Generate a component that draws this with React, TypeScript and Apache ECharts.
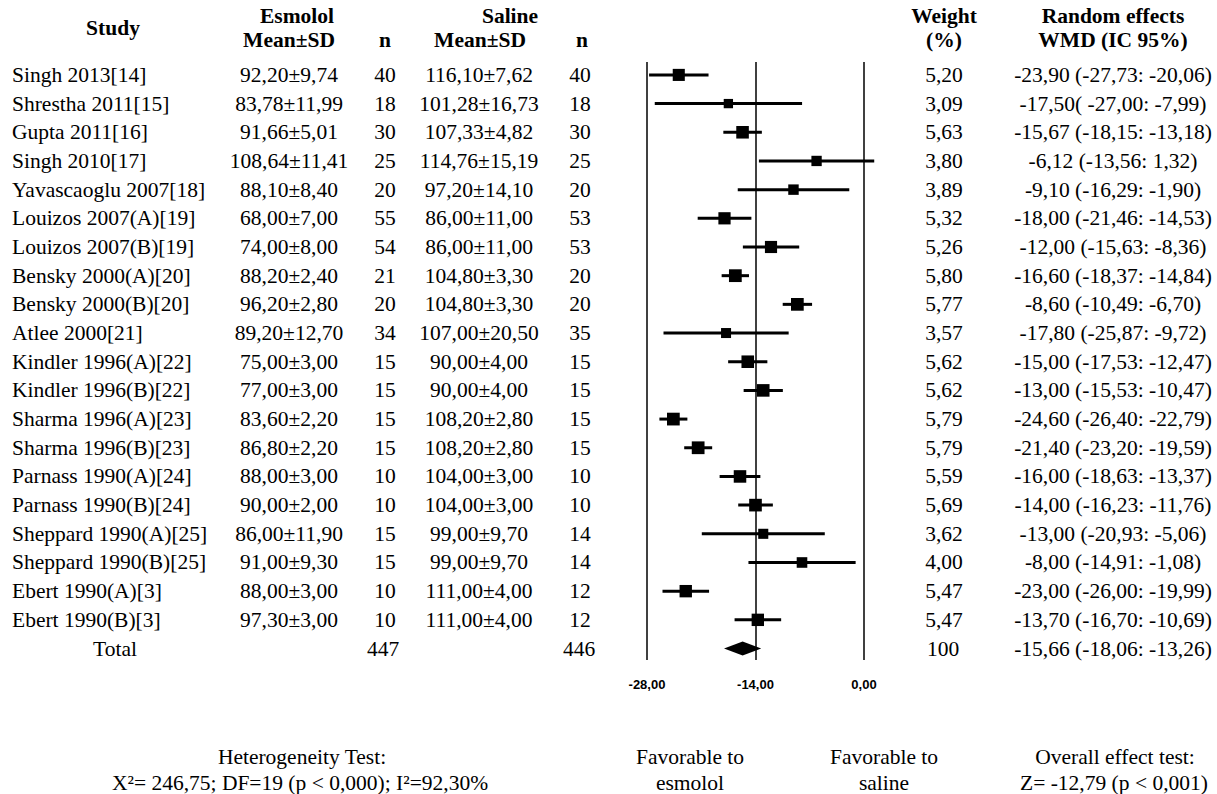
import React, { useEffect, useRef } from "react";
import * as echarts from "echarts";

const studies = [
  "Singh 2013[14]", "Shrestha 2011[15]", "Gupta 2011[16]", "Singh 2010[17]", "Yavascaoglu 2007[18]",
  "Louizos 2007(A)[19]", "Louizos 2007(B)[19]", "Bensky 2000(A)[20]", "Bensky 2000(B)[20]", "Atlee 2000[21]",
  "Kindler 1996(A)[22]", "Kindler 1996(B)[22]", "Sharma 1996(A)[23]", "Sharma 1996(B)[23]", "Parnass 1990(A)[24]",
  "Parnass 1990(B)[24]", "Sheppard 1990(A)[25]", "Sheppard 1990(B)[25]", "Ebert 1990(A)[3]", "Ebert 1990(B)[3]",
];
const esmololMeanSD = [
  "92,20±9,74", "83,78±11,99", "91,66±5,01", "108,64±11,41", "88,10±8,40", "68,00±7,00", "74,00±8,00",
  "88,20±2,40", "96,20±2,80", "89,20±12,70", "75,00±3,00", "77,00±3,00", "83,60±2,20", "86,80±2,20",
  "88,00±3,00", "90,00±2,00", "86,00±11,90", "91,00±9,30", "88,00±3,00", "97,30±3,00",
];
const esmololN = [40, 18, 30, 25, 20, 55, 54, 21, 20, 34, 15, 15, 15, 15, 10, 10, 15, 15, 10, 10];
const salineMeanSD = [
  "116,10±7,62", "101,28±16,73", "107,33±4,82", "114,76±15,19", "97,20±14,10", "86,00±11,00", "86,00±11,00",
  "104,80±3,30", "104,80±3,30", "107,00±20,50", "90,00±4,00", "90,00±4,00", "108,20±2,80", "108,20±2,80",
  "104,00±3,00", "104,00±3,00", "99,00±9,70", "99,00±9,70", "111,00±4,00", "111,00±4,00",
];
const salineN = [40, 18, 30, 25, 20, 53, 53, 20, 20, 35, 15, 15, 15, 15, 10, 10, 14, 14, 12, 12];
const weights = [5.2, 3.09, 5.63, 3.8, 3.89, 5.32, 5.26, 5.8, 5.77, 3.57, 5.62, 5.62, 5.79, 5.79, 5.59, 5.69, 3.62, 4.0, 5.47, 5.47];
const wmd = [-23.9, -17.5, -15.67, -6.12, -9.1, -18.0, -12.0, -16.6, -8.6, -17.8, -15.0, -13.0, -24.6, -21.4, -16.0, -14.0, -13.0, -8.0, -23.0, -13.7];
const ciLow = [-27.73, -27.0, -18.15, -13.56, -16.29, -21.46, -15.63, -18.37, -10.49, -25.87, -17.53, -15.53, -26.4, -23.2, -18.63, -16.23, -20.93, -14.91, -26.0, -16.7];
const ciHigh = [-20.06, -7.99, -13.18, 1.32, -1.9, -14.53, -8.36, -14.84, -6.7, -9.72, -12.47, -10.47, -22.79, -19.59, -13.37, -11.76, -5.06, -1.08, -19.99, -10.69];
const wmdLabels = [
  "-23,90 (-27,73: -20,06)", "-17,50( -27,00: -7,99)", "-15,67 (-18,15: -13,18)", "-6,12 (-13,56: 1,32)",
  "-9,10 (-16,29: -1,90)", "-18,00 (-21,46: -14,53)", "-12,00 (-15,63: -8,36)", "-16,60 (-18,37: -14,84)",
  "-8,60 (-10,49: -6,70)", "-17,80 (-25,87: -9,72)", "-15,00 (-17,53: -12,47)", "-13,00 (-15,53: -10,47)",
  "-24,60 (-26,40: -22,79)", "-21,40 (-23,20: -19,59)", "-16,00 (-18,63: -13,37)", "-14,00 (-16,23: -11,76)",
  "-13,00 (-20,93: -5,06)", "-8,00 (-14,91: -1,08)", "-23,00 (-26,00: -19,99)", "-13,70 (-16,70: -10,69)",
];
const totalLabel = "Total";
const totalN = [447, 446];
const totalWeight = "100";
const totalEffect = [-15.66, -18.06, -13.26];
const totalWmdLabel = "-15,66 (-18,06: -13,26)";
const xTicks = [-28, -14, 0];
const referenceLines = [-28, -14, 0];

const SERIF = "Liberation Serif";
const FS = 21.5;

function txt(text: string, x: number, y: number, align = "center", bold = false) {
  return {
    type: "text",
    x,
    y,
    style: {
      text,
      fill: "#000",
      fontSize: FS,
      fontFamily: SERIF,
      fontWeight: bold ? "bold" : "normal",
      align,
      verticalAlign: "middle",
      textAlign: align,
      textVerticalAlign: "middle",
    },
  };
}

export default function App() {
  const ref = useRef<HTMLDivElement>(null);
  useEffect(() => {
    if (!ref.current) return;
    const chart = echarts.init(ref.current, null, { renderer: "svg" });
    const nRows = studies.length;
    const tableData = [];
    for (let i = 0; i <= nRows; i++) tableData.push([-14, i]);

    const option: any = {
      animation: false,
      backgroundColor: "#fff",
      grid: { left: 631.5, width: 248, top: 62, height: 598, containLabel: false },
      xAxis: {
        type: "value",
        min: -30,
        max: 2,
        axisLine: { show: false },
        axisTick: { show: false },
        splitLine: { show: false },
        axisLabel: {
          customValues: xTicks,
          formatter: (v: number) => v.toFixed(2).replace(".", ","),
          fontWeight: "bold",
          fontFamily: "Liberation Sans",
          fontSize: 13,
          color: "#000",
          margin: 18,
        },
      },
      yAxis: { type: "value", inverse: true, min: -0.45, max: 20.4, show: false },
      series: [
        {
          type: "line",
          data: [],
          silent: true,
          markLine: {
            silent: true,
            symbol: ["none", "none"],
            label: { show: false },
            lineStyle: { color: "#000", width: 1.5, type: "solid" },
            data: referenceLines.map((v) => ({ xAxis: v })),
          },
        },
        {
          type: "custom",
          name: "studies",
          data: studies.map((_, i) => [i, wmd[i], ciLow[i], ciHigh[i], weights[i]]),
          encode: { x: [1, 2, 3], y: 0 },
          renderItem: (_p: any, api: any) => {
            const i = api.value(0);
            const pLo = api.coord([api.value(2), i]);
            const pHi = api.coord([api.value(3), i]);
            const pE = api.coord([api.value(1), i]);
            const s = 5.3 * Math.sqrt(api.value(4));
            return {
              type: "group",
              children: [
                { type: "line", shape: { x1: pLo[0], y1: pLo[1], x2: pHi[0], y2: pHi[1] }, style: { stroke: "#000", lineWidth: 3 } },
                { type: "rect", shape: { x: pE[0] - s / 2, y: pE[1] - s / 2, width: s, height: s }, style: { fill: "#000" } },
              ],
            };
          },
        },
        {
          type: "custom",
          name: "total",
          data: [[nRows, totalEffect[0], totalEffect[1], totalEffect[2]]],
          encode: { x: [1, 2, 3], y: 0 },
          renderItem: (_p: any, api: any) => {
            const i = api.value(0);
            const pE = api.coord([api.value(1), i]);
            const pLo = api.coord([api.value(2), i]);
            const pHi = api.coord([api.value(3), i]);
            const h = 7;
            return {
              type: "polygon",
              shape: { points: [[pLo[0], pLo[1]], [pE[0], pE[1] - h], [pHi[0], pHi[1]], [pE[0], pE[1] + h]] },
              style: { fill: "#000" },
            };
          },
        },
        {
          type: "custom",
          name: "table",
          data: tableData,
          encode: { x: 0, y: 1 },
          clip: false,
          renderItem: (p: any, api: any) => {
            const i = p.dataIndex;
            const y = api.coord([api.value(0), api.value(1)])[1];
            if (i < nRows) {
              return {
                type: "group",
                children: [
                  txt(studies[i], 12, y, "left"),
                  txt(esmololMeanSD[i], 289, y),
                  txt(String(esmololN[i]), 385, y),
                  txt(salineMeanSD[i], 479, y),
                  txt(String(salineN[i]), 580, y),
                  txt(weights[i].toFixed(2).replace(".", ","), 944, y),
                  txt(wmdLabels[i], 1113, y),
                ],
              };
            }
            return {
              type: "group",
              children: [
                txt(totalLabel, 115, y),
                txt(String(totalN[0]), 383, y),
                txt(String(totalN[1]), 579, y),
                txt(totalWeight, 943, y),
                txt(totalWmdLabel, 1113, y),
              ],
            };
          },
        },
      ],
      graphic: [
        txt("Study", 113, 28, "center", true),
        txt("Esmolol", 297, 16, "center", true),
        txt("Mean±SD", 289, 40, "center", true),
        txt("n", 385, 40, "center", true),
        txt("Saline", 510, 16, "center", true),
        txt("Mean±SD", 480, 40, "center", true),
        txt("n", 582, 40, "center", true),
        txt("Weight", 944, 16, "center", true),
        txt("(%)", 944, 40, "center", true),
        txt("Random effects", 1113, 16, "center", true),
        txt("WMD (IC 95%)", 1113, 40, "center", true),
        txt("Heterogeneity Test:", 302, 757),
        txt("X²= 246,75; DF=19 (p < 0,000); I²=92,30%", 300, 783),
        txt("Favorable to", 690, 757),
        txt("esmolol", 690, 783),
        txt("Favorable to", 884, 757),
        txt("saline", 884, 783),
        txt("Overall effect test:", 1115, 757),
        txt("Z= -12,79 (p < 0,001)", 1114, 783),
      ],
    };
    chart.setOption(option);
    return () => chart.dispose();
  }, []);
  return <div ref={ref} style={{ position: "fixed", left: 0, top: 0, width: 1217, height: 794, background: "#fff" }} />;
}
